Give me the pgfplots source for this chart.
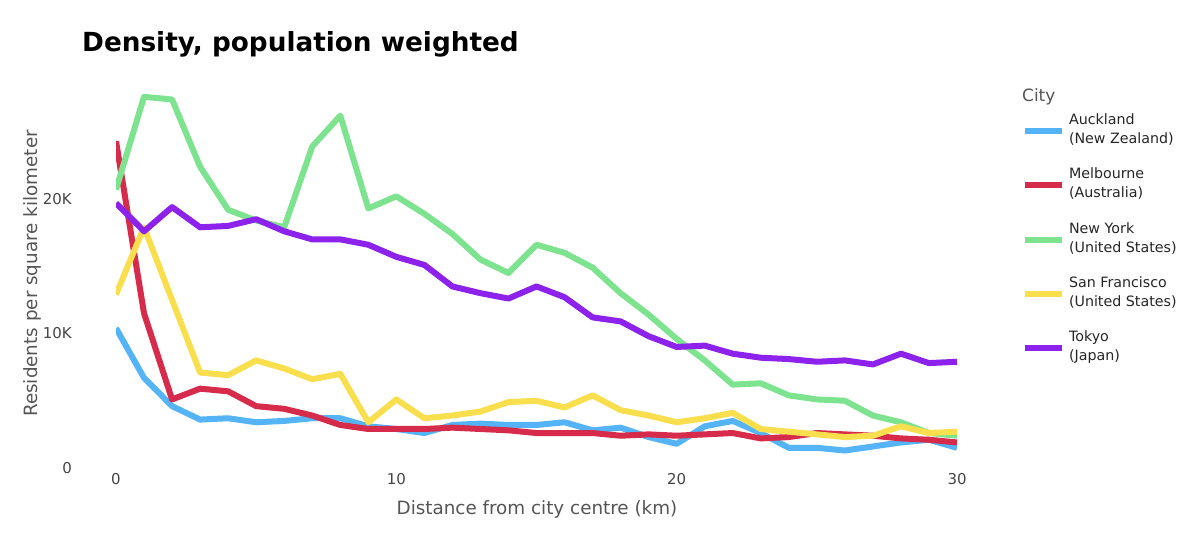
\documentclass[border=0pt]{standalone}
\usepackage{fontspec}
\setmainfont{DejaVu Sans}
\usepackage{pgfplots}
\pgfplotsset{compat=1.18}
\definecolor{cBlue}{HTML}{54B4F7}
\definecolor{cRed}{HTML}{D62B4A}
\definecolor{cGreen}{HTML}{7DE38F}
\definecolor{cYellow}{HTML}{F9DF4D}
\definecolor{cPurple}{HTML}{8C22EB}
\definecolor{tick}{HTML}{444444}
\definecolor{ttl}{HTML}{555555}
\newcommand{\two}[2]{\begin{tabular}{@{}l@{}}#1\\#2\end{tabular}}
\begin{document}
\begin{tikzpicture}
\useasboundingbox (0,0) rectangle (1200bp,545bp);
\begin{axis}[
  at={(116bp,77bp)}, anchor=south west,
  scale only axis, width=841bp, height=390bp,
  xmin=0, xmax=30, ymin=0, ymax=29000,
  scaled y ticks=false,
  axis line style={draw=none},
  major tick length=0pt,
  xtick={0,10,20,30}, xticklabels={0,10,20,30},
  ytick={0,10000,20000}, yticklabels={0,10K,20K},
  tick label style={font=\fontsize{15}{17}\selectfont, text=tick, inner sep=0pt},
  xticklabel style={anchor=center, yshift=-11bp},
  yticklabel style={anchor=east, xshift=-44bp},
  legend style={draw=none, fill=none, inner sep=0pt, outer sep=0pt,
    at={(axis description cs:1.0773,0.9335)}, anchor=north west,
    font=\fontsize{14.3}{19}\selectfont, text=black!85,
    column sep=4bp, row sep=0pt,
    nodes={inner sep=0pt, text height=30bp, text depth=24.25bp}},
  legend cell align=left,
  legend image code/.code={\draw[#1, line width=6bp] (0bp,0bp) -- (37bp,0bp);},
  every axis plot/.append style={line width=6bp, line join=round},
]
\addplot[cBlue] coordinates {
(0,10400)(1,6700)(2,4600)(3,3600)(4,3700)(5,3400)(6,3500)(7,3700)(8,3700)(9,3100)
(10,2900)(11,2600)(12,3200)(13,3300)(14,3200)(15,3200)(16,3400)(17,2800)(18,3000)(19,2300)
(20,1800)(21,3100)(22,3500)(23,2600)(24,1500)(25,1500)(26,1300)(27,1600)(28,1900)(29,2100)(30,1500)};
\addlegendentry{\two{Auckland}{(New Zealand)}}
\addplot[cRed] coordinates {
(0,24300)(1,11500)(2,5100)(3,5900)(4,5700)(5,4600)(6,4400)(7,3900)(8,3200)(9,2900)
(10,2900)(11,2900)(12,3000)(13,2900)(14,2800)(15,2600)(16,2600)(17,2600)(18,2400)(19,2500)
(20,2400)(21,2500)(22,2600)(23,2200)(24,2300)(25,2600)(26,2500)(27,2400)(28,2200)(29,2100)(30,1900)};
\addlegendentry{\two{Melbourne}{(Australia)}}
\addplot[cGreen] coordinates {
(0,20700)(1,27600)(2,27400)(3,22400)(4,19200)(5,18400)(6,17900)(7,23900)(8,26200)(9,19300)
(10,20200)(11,18900)(12,17400)(13,15500)(14,14500)(15,16600)(16,16000)(17,14900)(18,13000)(19,11400)
(20,9600)(21,8000)(22,6200)(23,6300)(24,5400)(25,5100)(26,5000)(27,3900)(28,3400)(29,2600)(30,2400)};
\addlegendentry{\two{New York}{(United States)}}
\addplot[cYellow] coordinates {
(0,12900)(1,17900)(2,12500)(3,7100)(4,6900)(5,8000)(6,7400)(7,6600)(8,7000)(9,3400)
(10,5100)(11,3700)(12,3900)(13,4200)(14,4900)(15,5000)(16,4500)(17,5400)(18,4300)(19,3900)
(20,3400)(21,3700)(22,4100)(23,2900)(24,2700)(25,2500)(26,2300)(27,2400)(28,3100)(29,2600)(30,2700)};
\addlegendentry{\two{San Francisco}{(United States)}}
\addplot[cPurple] coordinates {
(0,19700)(1,17600)(2,19400)(3,17900)(4,18000)(5,18500)(6,17600)(7,17000)(8,17000)(9,16600)
(10,15700)(11,15100)(12,13500)(13,13000)(14,12600)(15,13500)(16,12700)(17,11200)(18,10900)(19,9800)
(20,9000)(21,9100)(22,8500)(23,8200)(24,8100)(25,7900)(26,8000)(27,7700)(28,8500)(29,7800)(30,7900)};
\addlegendentry{\two{Tokyo}{(Japan)}}
\end{axis}
\node[anchor=base west, inner sep=0pt, font=\fontsize{26.4}{32}\selectfont\bfseries] at (82bp,493bp) {Density, population weighted};
\node[anchor=center, inner sep=0pt, text=ttl, font=\fontsize{18.4}{22}\selectfont] at (537bp,36bp) {Distance from city centre (km)};
\node[anchor=center, inner sep=0pt, text=ttl, rotate=90, font=\fontsize{18.4}{22}\selectfont] at (32bp,271.5bp) {Residents per square kilometer};
\node[anchor=west, inner sep=0pt, text=ttl, font=\fontsize{17}{20}\selectfont] at (1022bp,448bp) {City};
\end{tikzpicture}
\end{document}
